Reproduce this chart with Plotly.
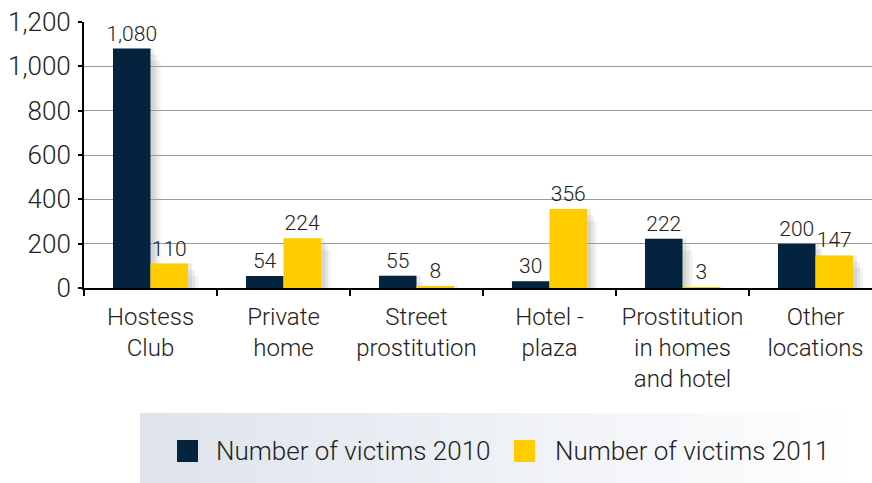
import plotly.graph_objects as go

categories = ["Hostess<br>Club", "Private<br>home", "Street<br>prostitution", "Hotel -<br>plaza",
              "Prostitution<br>in homes<br>and hotel", "Other<br>locations"]
victims_2010 = [1080, 54, 55, 30, 222, 200]
victims_2011 = [110, 224, 8, 356, 3, 147]
series_names = ["Number of victims 2010", "Number of victims 2011"]
colors = ["#03233F", "#FFCC00"]
yticks = [0, 200, 400, 600, 800, 1000, 1200]

W, H = 872, 483
L, R, T, B = 84, 0, 22, 195
pw, ph = W - L - R, H - T - B
BARGAP = 0.436

def px(x):
    return (x - L) / pw

def py(y):
    return (H - B - y) / ph

FONT = "Roboto"
TXT = "#222222"

fig = go.Figure()
for name, vals, col in zip(series_names, [victims_2010, victims_2011], colors):
    fig.add_trace(go.Bar(
        x=categories, y=vals, name=name, marker=dict(color=col, line=dict(width=0)),
        text=[f"{v:,}" for v in vals], textposition="outside", cliponaxis=False,
        constraintext="none",
        textfont=dict(family=FONT, size=21, color=TXT, weight=300),
        showlegend=False, hoverinfo="skip",
    ))

shapes = []
# soft shadows to the right of each bar
half = (1 - BARGAP) / 2
unit = pw / 5.925  # pixels per category
for s, vals in enumerate([victims_2010, victims_2011]):
    for i, v in enumerate(vals):
        bx0 = i - half + s * half
        bx1 = bx0 + half
        for k, (dx, a) in enumerate([(10, 0.05), (7, 0.06), (4, 0.07)]):
            shapes.append(dict(type="rect", xref="x", yref="y",
                               x0=bx0 + 3 / unit, x1=bx1 + dx / unit,
                               y0=0, y1=max(v - 12 * (1200 / ph) * (dx - 4) / 6, 0),
                               fillcolor=f"rgba(0,0,0,{a})", line=dict(width=0), layer="below"))

# legend background gradient
x0, x1 = 140, W
n = 60
c0 = (222, 227, 236)
c1 = (255, 255, 255)
for i in range(n):
    t = i / (n - 1)
    c = tuple(round(c0[k] + (c1[k] - c0[k]) * t) for k in range(3))
    xa = x0 + (x1 - x0) * i / n
    xb = x0 + (x1 - x0) * (i + 1) / n + 0.5
    shapes.append(dict(type="rect", xref="paper", yref="paper",
                       x0=px(xa), x1=px(xb), y0=py(H), y1=py(413),
                       fillcolor=f"rgb{c}", line=dict(width=0), layer="below"))
annotations = []
leg_x = [(177, 214), (514, 553)]
for (sx, tx), name, col in zip(leg_x, series_names, colors):
    shapes.append(dict(type="rect", xref="paper", yref="paper",
                       x0=px(sx), x1=px(sx + 21), y0=py(462), y1=py(440),
                       fillcolor=col, line=dict(width=0)))
    annotations.append(dict(xref="paper", yref="paper", x=px(tx), y=py(451),
                            text=name, showarrow=False, xanchor="left", yanchor="middle",
                            font=dict(family=FONT, size=26, color=TXT, weight=300)))

fig.update_layout(
    width=W, height=H, margin=dict(l=L, r=R, t=T, b=B),
    paper_bgcolor="white", plot_bgcolor="white",
    barmode="group", bargap=BARGAP, bargroupgap=0,
    shapes=shapes, annotations=annotations,
    font=dict(family=FONT, size=24, color=TXT, weight=300),
    xaxis=dict(range=[-0.5, 5.425], showgrid=False, showline=True, linecolor="black", linewidth=2,
               ticks="outside", tickson="boundaries", ticklen=6, tickwidth=2, tickcolor="black",
               ticklabelstandoff=6,
               tickfont=dict(family=FONT, size=24, color=TXT, weight=300)),
    yaxis=dict(range=[0, 1200], tickvals=yticks, ticktext=[f"{v:,}" for v in yticks],
               showgrid=True, gridcolor="#9a9a9a", gridwidth=1,
               showline=True, linecolor="black", linewidth=2, zeroline=False,
               ticks="outside", ticklen=4, tickwidth=2, tickcolor="black",
               ticklabelstandoff=2,
               tickfont=dict(family=FONT, size=26, color=TXT, weight=300)),
)
fig.write_html("out.html", config={"displayModeBar": False},
               post_script="document.body.style.margin='0';document.body.style.padding='0';"
                           "document.body.style.overflow='hidden';"
                           "document.documentElement.style.overflow='hidden';")
